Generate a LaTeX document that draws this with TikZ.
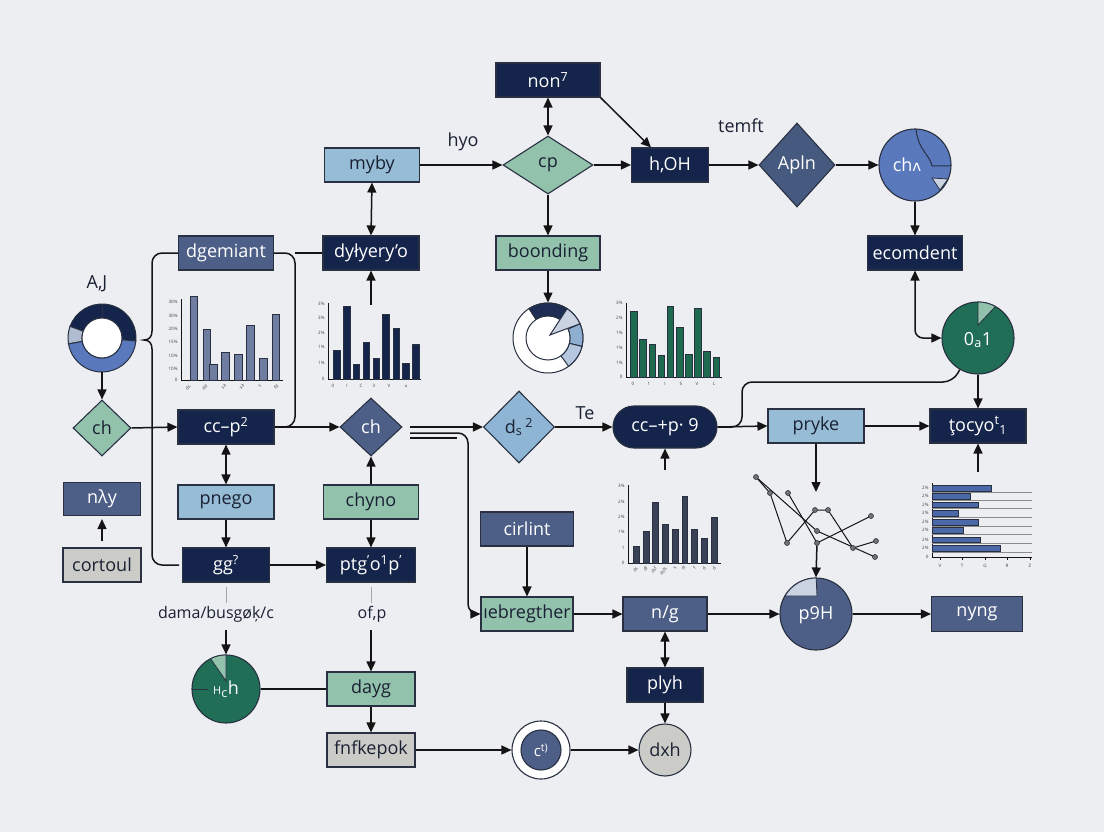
\documentclass[tikz,border=0pt]{standalone}
\usepackage{fontspec}
\setmainfont{Open Sans}
\newfontfamily\dvs{DejaVu Sans}
\usetikzlibrary{shapes.geometric,arrows.meta,calc}
\definecolor{bg}{HTML}{EDEEF2}
\definecolor{navy}{HTML}{14244A}
\definecolor{slate}{HTML}{4E5F87}
\definecolor{lblue}{HTML}{97BCD6}
\definecolor{sage}{HTML}{93C2AC}
\definecolor{grayc}{HTML}{CBCCC8}
\definecolor{midblue}{HTML}{5A79BD}
\definecolor{dgreen}{HTML}{1F6E55}
\definecolor{edge}{HTML}{283041}
\definecolor{ink}{HTML}{1A2133}
\definecolor{linec}{HTML}{141414}
\definecolor{pale}{HTML}{C9D3E2}
\definecolor{barA}{HTML}{6F7DA0}
\definecolor{barE}{HTML}{394156}
\definecolor{barD}{HTML}{1E6A4E}
\definecolor{barG}{HTML}{4B68A9}
\definecolor{dsc}{HTML}{8FB5D4}
\definecolor{aplc}{HTML}{465A7F}
\definecolor{ringb}{HTML}{8FAFD0}
\definecolor{ringc}{HTML}{B4C7DE}
\newcommand\ringseg[6]{\filldraw[#6] ($#1+(#4:#3pt)$) arc[start angle=#4, end angle=#5, radius=#3pt] -- ($#1+(#5:#2pt)$) arc[start angle=#5, end angle=#4, radius=#2pt] -- cycle;}
\begin{document}
\begin{tikzpicture}[x=1pt,y=-1pt,
 base/.style={draw=edge, line width=1.1pt, inner sep=0pt, font=\fontsize{18}{20}\selectfont, text=ink},
 box/.style={base, rectangle, minimum height=34},
 navybox/.style={box, fill=navy, text=white},
 slatebox/.style={box, fill=slate, text=white},
 lbbox/.style={box, fill=lblue},
 sagebox/.style={box, fill=sage},
 graybox/.style={box, fill=grayc},
 dia/.style={base, diamond},
 circ/.style={base, circle},
 lab/.style={inner sep=0pt, font=\fontsize{18}{20}\selectfont, text=ink},
 conn/.style={line width=1.5pt, draw=linec},
 arr/.style={conn, -{Triangle[length=10pt,width=9pt]}},
 darr/.style={conn, {Triangle[length=10pt,width=9pt]}-{Triangle[length=10pt,width=9pt]}},
 thinl/.style={line width=0.8pt, draw=black!35},
 axis/.style={line width=0.9pt, draw=linec},
 tk/.style={inner sep=0.3pt, font=\fontsize{4.5}{5}\selectfont, text=black!75},
 bar/.style={draw=edge, line width=0.6pt},
 seg/.style={draw=edge, line width=1pt},
 pt/.style={circle, draw=edge, fill=black!55, line width=0.6pt, inner sep=0pt, minimum size=5},
]
\fill[bg] (0,0) rectangle (1104,832);
\useasboundingbox (0,0) rectangle (1104,832);

% ---------------- charts ----------------
% chart A (grey-slate bars)
\draw[axis] (181,299) -- (181,380) -- (283,380);
\foreach \a/\b/\t in {190/197/296,203/210/329,209/217/364,221/229/352,234/242/354,246/254/325,259/267/358,272/279/314}
  \filldraw[bar, fill=barA] (\a,\t) rectangle (\b,380);
\foreach \y/\t [count=\i] in {302/30\%,316/30\%,329/20\%,342/15\%,356/10\%,369/10\%,380/0}
  \node[tk, anchor=east] (ya\i) at (178,\y) {\t};
\foreach \x/\t [count=\i] in {190/ds,207/dd,226/sa,244/sa,261/s,278/fd}
  \node[tk, rotate=45, anchor=east] (xa\i) at (\x,385) {\t};

% chart B (navy bars)
\draw[axis] (328,303) -- (328,379) -- (421,379);
\foreach \a/\b/\t in {333/340/350,343/350/306,353/359/364,363/369/342,373/379/358,382/389/314,393/399/328,402/409/363,412/419/344}
  \filldraw[bar, fill=navy] (\a,\t) rectangle (\b,379);
\foreach \y/\t [count=\i] in {304/3\%,318/3\%,333/2\%,347/1\%,363/1\%,379/0}
  \node[tk, anchor=east] (yb\i) at (325,\y) {\t};
\foreach \x/\t [count=\i] in {333/0,347/I,361/C,374/3,389/V,406/u}
  \node[tk] (xb\i) at (\x,386) {\t};

% chart C (centre donut)
\node[circle, draw=edge, line width=1pt, fill=white, minimum size=70, inner sep=0pt] (pie) at (548,338) {};
\coordinate (pc) at (548,338);
\ringseg{(pc)}{22}{35}{57}{123}{seg, fill=navy!85!slate}
\ringseg{(pc)}{22}{35}{-14}{24}{seg, fill=ringb}
\ringseg{(pc)}{22}{35}{-54}{-14}{seg, fill=ringc}
\filldraw[seg, fill=white] (pc) circle[radius=22pt];
\filldraw[seg, fill=pale] ($(pc)+(2,-3)$) -- ($(pc)+(57:35pt)$) arc[start angle=57, end angle=24, radius=35pt] -- cycle;

% chart D (green bars)
\draw[axis] (626,303) -- (626,377) -- (722,377);
\foreach \a/\b/\t in {630/637/311,639/646/339,649/655/344,658/664/355,667/673/306,676/683/327,685/692/354,694/701/308,703/710/351,713/719/357}
  \filldraw[bar, fill=barD] (\a,\t) rectangle (\b,377);
\foreach \y/\t [count=\i] in {303/3\%,318/2\%,333/1\%,348/1\%,363/1\%,377/0}
  \node[tk, anchor=east] (yd\i) at (623,\y) {\t};
\foreach \x/\t [count=\i] in {633/0,649/1,665/I,681/5,697/V,714/L}
  \node[tk] (xd\i) at (\x,384) {\t};

% chart E (dark bars)
\draw[axis] (628,485) -- (628,563) -- (721,563);
\foreach \a/\b/\t in {633/639/546,643/649/531,652/658/502,662/668/524,672/678/529,682/687/496,691/697/529,701/707/538,711/717/517}
  \filldraw[bar, fill=barE] (\a,\t) rectangle (\b,563);
\foreach \y/\t [count=\i] in {486/3\%,502/2\%,517/2\%,532/1\%,548/1,563/0}
  \node[tk, anchor=east] (ye\i) at (625,\y) {\t};
\foreach \x/\t [count=\i] in {637/ds,647/df,656/dsf,666/dsfs,676/s,685/ff,695/f,705/d,715/d}
  \node[tk, rotate=55, anchor=east] (xe\i) at (\x,567) {\t};

% chart F (line chart)
\coordinate (sA) at (756,477); \coordinate (sB) at (770,493); \coordinate (sC) at (788,493);
\coordinate (sD) at (787,543); \coordinate (sE) at (815,510); \coordinate (sF) at (828,510);
\coordinate (sG) at (817,531); \coordinate (sH) at (817,543); \coordinate (sI) at (871,516);
\coordinate (sJ) at (853,548); \coordinate (sK) at (876,541); \coordinate (sL) at (875,557);
\draw[line width=1pt, draw=linec] (sA) -- (sB) -- (sD) -- (sE) -- (sF) -- (sJ) -- (sK);
\draw[line width=1pt, draw=linec] (sA) -- (sG) -- (sL);
\draw[line width=1pt, draw=linec] (sC) -- (sH) -- (sI);
\foreach \p in {A,B,C,D,E,F,G,H,I,J,K,L} \node[pt] (p\p) at (s\p) {};

% chart G (horizontal bars)
\draw[axis] (932,483) -- (932,557) -- (1032,557);
\foreach \yt/\yb/\xe [count=\i] in {485/491/991,493/499/970,502/507/978,510/516/958,519/525/978,527/533/963,537/542/980,545/551/1000} {
  \draw[line width=0.8pt, draw=black!45] (932,\yb+1.5) -- (1032,\yb+1.5);
  \filldraw[bar, fill=barG] (932,\yt) rectangle (\xe,\yb);
  \node[tk, anchor=east] (yg\i) at (929,{(\yt+\yb)/2}) {2\%};
}
\node[tk, anchor=east] (yg0) at (929,557) {0};
\foreach \x/\t [count=\i] in {940/V,962/T,985/G,1007/R,1030/Z} {
  \draw[line width=0.6pt] (\x,557) -- (\x,560);
  \node[tk] (xg\i) at (\x,566) {\t};
}

% ---------------- nodes ----------------
\node[navybox, minimum width=104] (non) at (548,80) {non\textsuperscript{7}};
\node[lbbox, minimum width=95] (myby) at (372,165) {myby};
\node[dia, fill=sage, minimum width=90, minimum height=58] (cp) at (548,165) {cp};
\node[navybox, minimum width=77] (hoh) at (670,165) {h,OH};
\node[dia, fill=aplc, text=white, minimum width=76, minimum height=84] (apln) at (797,165) {Apln};
\node[circ, fill=midblue, minimum size=72] (cha) at (915,165) {};
\draw[line width=1pt, draw=edge] (916,129) .. controls (918,150) and (930,155) .. (932,166) -- (951,166);
\filldraw[line width=0.8pt, draw=edge, fill=pale] (932,178) -- (948,179) -- (940,190) -- cycle;
\node[lab, text=white] (chat) at (907,165) {ch{\dvs\fontsize{15}{18}\selectfont ʌ}};
\node[navybox, minimum width=95] (ecom) at (915,253) {ecomdent};
\node[sagebox, minimum width=104] (boon) at (548,253) {boonding};
\node[slatebox, minimum width=95] (dgem) at (226,253) {dgemiant};
\node[navybox, minimum width=96] (dyh) at (371,253) {dyłyery’o};
\node[lab] (aj) at (97,284) {A,J};

% left donut
\node[circle, minimum size=68, inner sep=0pt] (donut) at (102,338) {};
\coordinate (dn) at (102,338);
\ringseg{(dn)}{20}{34}{-5}{160}{seg, fill=navy}
\ringseg{(dn)}{20}{34}{160}{190}{seg, fill=pale!80!slate}
\ringseg{(dn)}{20}{34}{190}{355}{seg, fill=midblue}
\filldraw[seg, fill=white] (dn) circle[radius=20pt];
\draw[seg] (102,304) -- (102,318);

\node[dia, fill=sage, minimum width=58, minimum height=56] (chl) at (102,428) {ch};
\node[navybox, minimum width=96] (cc) at (226,427) {cc–p\textsuperscript{2}};
\node[dia, fill=slate, text=white, minimum width=62, minimum height=58] (chm) at (371,427) {ch};
\node[dia, fill=dsc, minimum width=71, minimum height=72] (ds) at (519,427) {d\textsubscript{s}\,\textsuperscript{2}};
\node[lab] (te) at (585,413) {Te};
\node[base, rectangle, rounded corners=21pt, fill=navy, text=white, minimum width=104, minimum height=42] (ccp) at (665,427) {cc–+p· 9};
\node[lbbox, minimum width=96] (pryke) at (816,426) {pryke};
\node[navybox, minimum width=96] (tocyo) at (978,426) {ţocyo\textsuperscript{t}\textsubscript{1}};
\node[circ, fill=dgreen, minimum size=72] (o1) at (978,338) {};
\filldraw[line width=0.8pt, draw=edge, fill=sage] (978,325) -- (978,302) arc[start angle=90, end angle=61, radius=36pt] -- cycle;
\node[lab, text=white] (o1t) at (978,340) {0\textsubscript{a}1};

\node[slatebox, minimum width=77, minimum height=33] (ny) at (102,499) {nλy};
\node[graybox, minimum width=78] (cort) at (102,565) {cortoul};
\node[lbbox, minimum width=96] (pnego) at (226,502) {pnego};
\node[sagebox, minimum width=95] (chyno) at (371,502) {chyno};
\node[navybox, minimum width=87] (gg) at (226,565) {gg\textsuperscript{?}};
\node[navybox, minimum width=89] (ptg) at (371,565) {ptg\textsuperscript{’}o\textsuperscript{1}p\textsuperscript{’}};
\node[lab, font=\fontsize{16}{18}\selectfont] (lab1) at (216,614) {dama/busgøķ/c};
\node[lab, font=\fontsize{16}{18}\selectfont] (lab2) at (372,614) {of‚p};

\node[circ, fill=dgreen, minimum size=68] (hc) at (226,689) {};
\filldraw[line width=0.8pt, draw=edge, fill=sage] (226,681) -- (226,655) arc[start angle=90, end angle=117, radius=34pt] -- cycle;
\draw[line width=0.9pt, draw=edge] (192,689) -- (208,689);
\node[lab, text=white] (hct) at (226,689) {{\fontsize{11}{12}\selectfont H}\textsubscript{c}h};
\node[sagebox, minimum width=88] (dayg) at (371,689) {dayg};
\node[graybox, minimum width=88] (fnf) at (371,750) {fnfkepok};
\node[circ, fill=white, minimum size=58] (c0) at (541,750) {};
\node[circ, fill=slate, text=white, minimum size=40, font=\fontsize{15}{16}\selectfont] (c0i) at (541,750) {c\textsuperscript{t)}};
\node[circ, fill=grayc, minimum size=52] (dxh) at (665,750) {dxh};
\node[navybox, minimum width=76] (plyh) at (665,685) {plyh};
\node[slatebox, minimum width=84] (ng) at (665,614) {n/g};
\node[sagebox, minimum width=92] (ieb) at (527,614) {ıebregther};
\node[slatebox, minimum width=93] (cirl) at (527,529) {cirlint};
\node[circ, fill=slate, minimum size=72] (p9h) at (816,614) {};
\filldraw[line width=0.8pt, draw=edge, fill=pale] (817,596) -- (785,596) arc[start angle=150, end angle=90, radius=36pt] -- cycle;
\node[lab, text=white] (p9ht) at (816,615) {p9H};
\node[slatebox, minimum width=91, minimum height=35] (nyng) at (977,614) {nyng};

\node[lab] (hyo) at (463,142) {hyo};
\node[lab] (temft) at (741,126) {temft};

% ---------------- connectors ----------------
\draw[darr] (non.south) -- (cp.north);
\draw[arr] (non.south east) -- ([xshift=20]hoh.north west);
\draw[arr] (myby.east) -- (cp.west);
\draw[arr] (cp.east) -- (hoh.west);
\draw[arr] (hoh.east) -- (apln.west);
\draw[arr] (apln.east) -- (cha.west);
\draw[arr] (cha.south) -- (ecom.north);
\draw[darr, rounded corners=8] (ecom.south) |- (o1.west);
\draw[arr] (o1.south) -- (tocyo.north);
\draw[arr] (cp.south) -- (boon.north);
\draw[arr] (boon.south) -- (pie.north);
\draw[darr] (myby.south) -- (dyh.north);
\coordinate (bBtop) at (371,305);
\draw[arr] (bBtop) -- (dyh.south);

% left bracket
\coordinate (bl1) at (152,253); \coordinate (bl2) at (152,331); \coordinate (bl3) at (144,340);
\coordinate (bl4) at (152,349); \coordinate (bl5) at (152,565); \coordinate (bl6) at (179,565);
\draw[conn, rounded corners=10] (dgem.west) -- (bl1) -- (bl2);
\draw[conn] (bl2) .. controls (152,337) and (149,340) .. (bl3) .. controls (149,340) and (152,343) .. (bl4);
\draw[conn, rounded corners=10] (bl4) -- (bl5) -- (bl6);
% right bracket
\coordinate (br1) at (295,253); \coordinate (br2) at (295,427);
\draw[conn, rounded corners=10] (dgem.east) -- (br1) -- (br2) -- (cc.east);
\draw[conn] (br1) -- (dyh.west);

\draw[arr] (donut.south) -- (chl.north);
\draw[arr] (chl.east) -- (cc.west);
\draw[arr] (cc.east) -- (chm.west);
\draw[darr] (cc.south) -- (pnego.north);
\draw[arr] (pnego.south) -- (gg.north);
\draw[arr] (gg.east) -- (ptg.west);
\draw[arr] (chyno.north) -- (chm.south);
\draw[arr] (chyno.south) -- (ptg.north);
\draw[arr] ([yshift=6]cort.north) -- ([yshift=-3]ny.south);

\coordinate (g1a) at (226,587); \coordinate (g1b) at (226,603);
\coordinate (g2a) at (371,587); \coordinate (g2b) at (371,603);
\coordinate (a1s) at (226,630); \coordinate (a2s) at (371,630);
\draw[thinl] (g1a) -- (g1b);
\draw[thinl] (g2a) -- (g2b);
\draw[arr] (a1s) -- (hc.north);
\draw[arr] (a2s) -- (dayg.north);
\draw[conn] (hc.east) -- (dayg.west);
\draw[arr] (dayg.south) -- (fnf.north);
\draw[arr] (fnf.east) -- (c0.west);
\draw[arr] (c0.east) -- (dxh.west);
\draw[darr] (ng.south) -- (plyh.north);
\draw[arr] (plyh.south) -- (dxh.north);
\draw[arr] (ieb.east) -- (ng.west);
\draw[arr] (ng.east) -- (p9h.west);
\draw[arr] (p9h.east) -- (nyng.west);
\draw[arr] (cirl.south) -- (ieb.north);

% triple lines from middle diamond
\coordinate (t1a) at (410,427);
\coordinate (t2a) at (410,433); \coordinate (t2b) at (468,433); \coordinate (t2c) at (468,614);
\coordinate (t3a) at (410,438); \coordinate (t3b) at (457,438);
\draw[arr] (t1a) -- (ds.west);
\draw[arr, rounded corners=10] (t2a) -- (t2b) -- (t2c) -- (ieb.west);
\draw[conn] (t3a) -- (t3b);

\draw[arr] (ds.east) -- (ccp.west);
\coordinate (bEtop) at (665,470);
\draw[arr] (bEtop) -- (ccp.south);
\draw[arr] (ccp.east) -- (pryke.west);
\coordinate (j1) at (742,427); \coordinate (j2) at (742,382); \coordinate (j3) at (953,382);
\draw[conn, rounded corners=10] (ccp.east) -- (j1) -- (j2) -- (j3) -- (o1.240);
\draw[arr] (pryke.east) -- (tocyo.west);
\coordinate (scTop) at (816,492);
\draw[arr] (pryke.south) -- (scTop);
\draw[arr] (pH) -- (p9h.north);
\coordinate (hbTop) at (978,472);
\draw[arr] (hbTop) -- (tocyo.south);
\end{tikzpicture}
\end{document}
